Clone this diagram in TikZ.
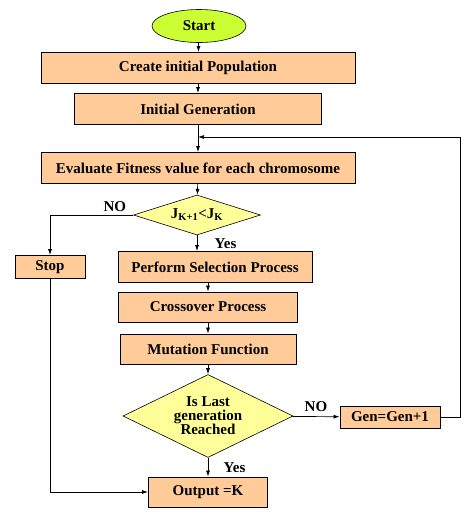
\documentclass[tikz,border=0pt]{standalone}
\usepackage{fontspec}
\setmainfont{Liberation Serif}
\usetikzlibrary{arrows.meta, positioning, shapes.geometric}

\definecolor{boxfill}{HTML}{FFCC99}
\definecolor{decfill}{HTML}{FFFF99}
\definecolor{startfill}{HTML}{CCFF33}

\begin{document}
\begin{tikzpicture}[
    x=1pt, y=-1pt,
    font=\bfseries\fontsize{15}{14}\selectfont,
    block/.style={draw, fill=boxfill, line width=0.9pt, minimum height=31pt, align=center, inner sep=2pt},
    decision/.style={draw, diamond, fill=decfill, line width=0.6pt, aspect=2.05, align=center, inner sep=0pt},
    terminal/.style={draw, ellipse, fill=startfill, line width=0.6pt, minimum width=94pt, minimum height=33pt},
    arrow/.style={-{Latex[length=6pt, width=4pt]}, line width=0.7pt}
]
\useasboundingbox (0,0) rectangle (474,523);

\node[terminal] (start) at (199,26) {Start};
\node[block, minimum width=314pt] (create) at (198,68) {Create initial Population};
\node[block, minimum width=247pt] (initgen) at (198,109) {Initial Generation};
\node[block, minimum width=314pt] (evaluate) at (198,168) {Evaluate Fitness value for each chromosome};
\node[decision, minimum width=127pt, minimum height=40pt] (check) at (197,215) {J\textsubscript{K+1}<J\textsubscript{K}};
\node[block, minimum width=70pt, minimum height=23pt] (stop) at (50,267) {Stop};
\node[block, minimum width=194pt] (select) at (215,267) {Perform Selection Process};
\node[block, minimum width=179pt, minimum height=30pt] (cross) at (208,307) {Crossover Process};
\node[block, minimum width=176pt, minimum height=30pt] (mutate) at (208,349) {Mutation Function};
\node[decision, minimum width=170pt, minimum height=83pt] (last) at (208,416) {Is Last\\generation\\Reached};
\node[block, minimum width=100pt, minimum height=22pt] (nextgen) at (390,417) {Gen=Gen+1};
\node[block, minimum width=119pt, minimum height=30pt] (output) at (208,492) {Output =K};

\coordinate (loopin) at (198,137);
\coordinate (loopcorner) at (460,137);

\draw[arrow] (start) -- (create);
\draw[arrow] (create) -- (initgen);
\draw[arrow] (initgen) -- (evaluate);
\draw[arrow] (evaluate) -- (check);
\draw[arrow] (check.south) -- (check.south |- select.north) node[pos=0.5, right=14pt] {Yes};
\draw[arrow] (check.west) -| node[pos=0.11, above] {NO} (stop.north);
\draw[arrow] (select.south -| cross.north) -- (cross.north);
\draw[arrow] (cross) -- (mutate);
\draw[arrow] (mutate) -- (last);
\draw[arrow] (last) -- node[right=12pt] {Yes} (output);
\draw[arrow] (last) -- node[above=1pt] {NO} (nextgen);
\draw[arrow] (nextgen.east) -| (loopcorner) -- (loopin);
\draw[arrow] (stop.south) |- (output.west);
\end{tikzpicture}
\end{document}
